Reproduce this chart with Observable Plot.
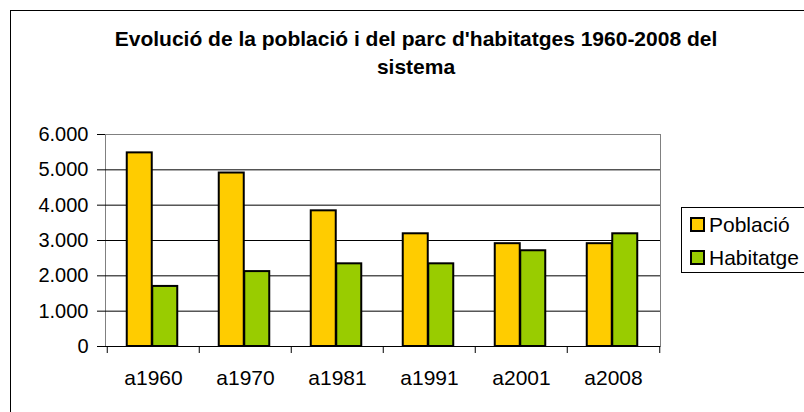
<!DOCTYPE html>
<html><head><meta charset="utf-8">
<script src="https://cdn.jsdelivr.net/npm/d3@7"></script>
<script src="https://cdn.jsdelivr.net/npm/@observablehq/plot@0.6"></script>
<style>
body{margin:0;background:#fff;}
#wrap{position:relative;width:804px;height:412px;overflow:hidden;font-family:"Liberation Sans",Arial,sans-serif;color:#000;}
#wrap svg{position:absolute;left:0;top:0;}
#border{position:absolute;left:10px;top:10px;width:900px;height:600px;border-left:1px solid #000;border-top:1px solid #000;}
#title{position:absolute;left:76px;width:680px;top:25px;text-align:center;font-weight:bold;font-size:21px;line-height:28px;}
#legend{position:absolute;left:681px;top:207px;width:200px;height:66px;border:1px solid #000;box-sizing:border-box;background:#fff;}
.sw{position:absolute;left:8px;width:15px;height:15px;border:2px solid #000;box-sizing:border-box;}
.lt{position:absolute;left:27px;font-size:21px;line-height:20px;white-space:nowrap;}
</style>
</head><body>
<div id="wrap"><div id="border"></div><div id="title"></div><div id="legend"></div></div>
<script>
const titleLines = ["Evolució de la població i del parc d'habitatges 1960-2008 del", "sistema"];
const years = ["a1960", "a1970", "a1981", "a1991", "a2001", "a2008"];
const poblacio = [5480, 4910, 3840, 3190, 2910, 2910];
const habitatge = [1700, 2120, 2340, 2340, 2710, 3190];
const seriesNames = ["Població", "Habitatge"];
const seriesColors = ["#FFCC00", "#99CC00"];
const yTicks = [0, 1000, 2000, 3000, 4000, 5000, 6000];

const W = 804, H = 412, mL = 105, mR = 144, mT = 134, mB = 66;
const bw = (W - mL - mR) / years.length;
const barW = 25.5;
const gap = (bw - 2 * barW) / 2;
const fmt = d3.formatLocale({decimal: ",", thousands: ".", grouping: [3]}).format(",");

const rows = [poblacio, habitatge];
const data = years.flatMap((y, i) => seriesNames.map((s, k) => ({year: y, series: s, value: rows[k][i]})));

const chart = Plot.plot({
  width: W, height: H,
  marginLeft: mL, marginRight: mR, marginTop: mT, marginBottom: mB,
  style: {background: "transparent", fontFamily: "'Liberation Sans', Arial, sans-serif", fontSize: "20px", color: "#000", overflow: "visible"},
  x: {domain: years, padding: 0, label: null},
  y: {domain: [0, 6000], label: null},
  marks: [
    Plot.frame({stroke: "#808080"}),
    Plot.ruleY(yTicks.filter(d => d > 0 && d < 6000), {stroke: "#000"}),
    Plot.barY(data.filter(d => d.series === seriesNames[0]), {x: "year", y: "value", fill: seriesColors[0], stroke: "#000", strokeWidth: 2, insetLeft: gap - 1, insetRight: gap + barW + 1}),
    Plot.barY(data.filter(d => d.series === seriesNames[1]), {x: "year", y: "value", fill: seriesColors[1], stroke: "#000", strokeWidth: 2, insetLeft: gap + barW - 1, insetRight: gap + 1}),
    Plot.ruleY([0], {stroke: "#000"}),
    Plot.ruleX(years, {x: d => d, dx: -bw / 2, insetTop: H - mT - mB, insetBottom: -7, stroke: "#000"}),
    Plot.ruleX([years[years.length - 1]], {x: d => d, dx: bw / 2, insetTop: H - mT - mB, insetBottom: -7, stroke: "#000"}),
    Plot.axisY({ticks: yTicks, tickFormat: d => d === 0 ? "0" : fmt(d), tickSize: 8, tickPadding: 9}),
    Plot.axisX({tickSize: 0, tickPadding: 24, fontSize: 21})
  ]
});
document.getElementById("wrap").prepend(chart);

document.getElementById("title").innerHTML = titleLines.join("<br>");
const legend = document.getElementById("legend");
const rowTops = [8, 41];
seriesNames.forEach((name, k) => {
  const sw = document.createElement("div");
  sw.className = "sw"; sw.style.top = (rowTops[k] + 1) + "px"; sw.style.background = seriesColors[k];
  const t = document.createElement("div");
  t.className = "lt"; t.style.top = (rowTops[k] - 1) + "px"; t.textContent = name;
  legend.append(sw, t);
});
</script>
</body></html>
